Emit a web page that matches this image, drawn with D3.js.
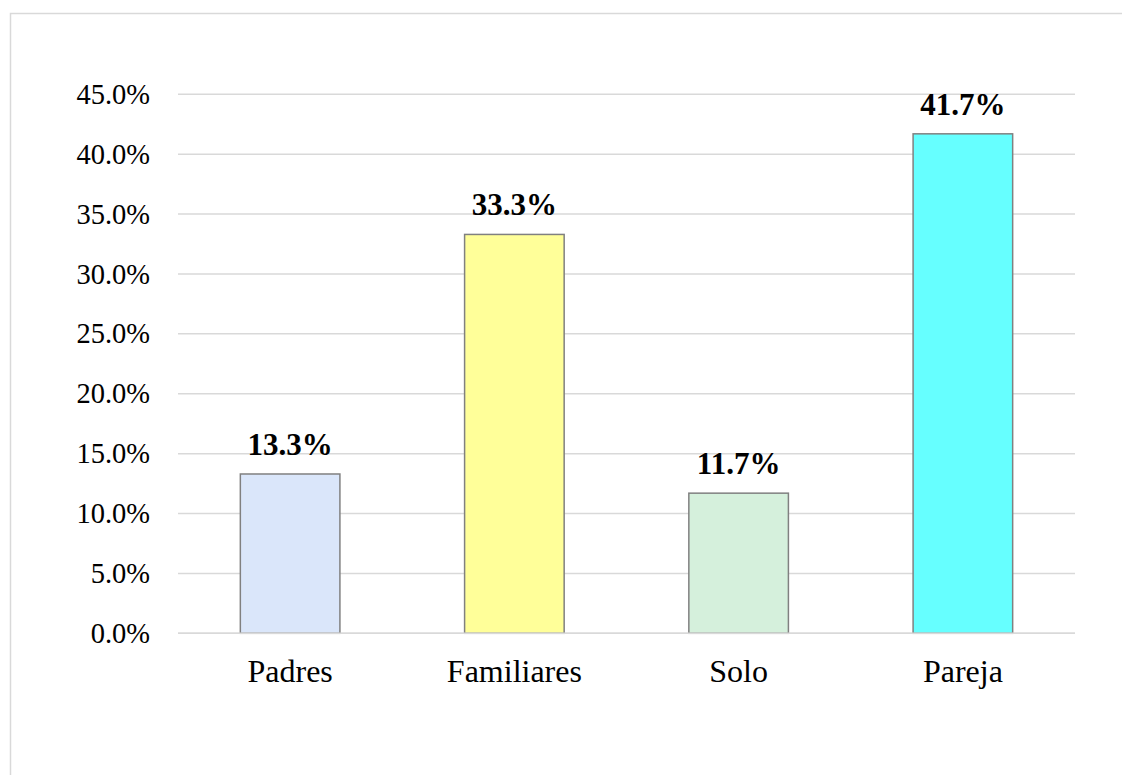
<!DOCTYPE html>
<html>
<head>
<meta charset="utf-8">
<script src="https://cdn.jsdelivr.net/npm/d3@7"></script>
<style>
  html, body { margin: 0; padding: 0; background: #fff; }
  svg { display: block; }
  text { font-family: "Liberation Serif", "Times New Roman", serif; fill: #000; }
</style>
</head>
<body>
<svg id="chart" width="1122" height="775"></svg>
<script>
// Living arrangement shares (%)
const categories = ["Padres", "Familiares", "Solo", "Pareja"];
const values = [13.3, 33.3, 11.7, 41.7];
const barColors = ["#dae6fa", "#ffff99", "#d5f0dc", "#66ffff"];
const yTicks = [0, 5, 10, 15, 20, 25, 30, 35, 40, 45];

const svg = d3.select("#chart");
const W = 1122, H = 775;

// outer frame of the chart area
svg.append("rect")
  .attr("x", 10.5).attr("y", 13.5)
  .attr("width", W + 20).attr("height", H + 20)
  .attr("fill", "#fff")
  .attr("stroke", "#d9d9d9").attr("stroke-width", 1.5);

const plot = { left: 178, right: 1075, top: 94.3, bottom: 633.3 };

const x = d3.scaleBand()
  .domain(categories)
  .range([plot.left, plot.right])
  .paddingInner(0.556)
  .paddingOuter(0.278);

const y = d3.scaleLinear()
  .domain([0, 45])
  .range([plot.bottom, plot.top]);

// horizontal gridlines
svg.append("g")
  .selectAll("line")
  .data(yTicks)
  .join("line")
  .attr("x1", plot.left).attr("x2", plot.right)
  .attr("y1", d => y(d)).attr("y2", d => y(d))
  .attr("stroke", "#d9d9d9").attr("stroke-width", 1.5);

// y axis tick labels
const yAxis = d3.axisLeft(y)
  .tickValues(yTicks)
  .tickSize(0)
  .tickPadding(28)
  .tickFormat(d => d.toFixed(1) + "%");
const gy = svg.append("g")
  .attr("transform", `translate(${plot.left},0)`)
  .call(yAxis);
gy.select(".domain").remove();
gy.selectAll("text")
  .style("font-family", '"Liberation Serif", "Times New Roman", serif')
  .attr("font-size", 28.5)
  .attr("fill", "#000");

// bars
svg.append("g")
  .selectAll("rect")
  .data(categories)
  .join("rect")
  .attr("x", d => x(d))
  .attr("y", (d, i) => y(values[i]))
  .attr("width", x.bandwidth())
  .attr("height", (d, i) => y(0) - y(values[i]))
  .attr("fill", (d, i) => barColors[i])
  .attr("stroke", "#808080").attr("stroke-width", 1.5);

// baseline drawn over the bar bottoms
svg.append("line")
  .attr("x1", plot.left).attr("x2", plot.right)
  .attr("y1", y(0)).attr("y2", y(0))
  .attr("stroke", "#d9d9d9").attr("stroke-width", 1.5);

// value labels
svg.append("g")
  .selectAll("text")
  .data(categories)
  .join("text")
  .attr("x", d => x(d) + x.bandwidth() / 2)
  .attr("y", (d, i) => y(values[i]) - 19)
  .attr("text-anchor", "middle")
  .attr("font-size", 31)
  .attr("font-weight", "bold")
  .text((d, i) => values[i].toFixed(1) + "%");

// category axis
const xAxis = d3.axisBottom(x).tickSize(0).tickPadding(0);
const gx = svg.append("g")
  .attr("transform", `translate(0,${plot.bottom})`)
  .call(xAxis);
gx.select(".domain").remove();
gx.selectAll("text")
  .style("font-family", '"Liberation Serif", "Times New Roman", serif')
  .attr("font-size", 32)
  .attr("fill", "#000")
  .attr("dy", null)
  .attr("y", 49);
</script>
</body>
</html>
